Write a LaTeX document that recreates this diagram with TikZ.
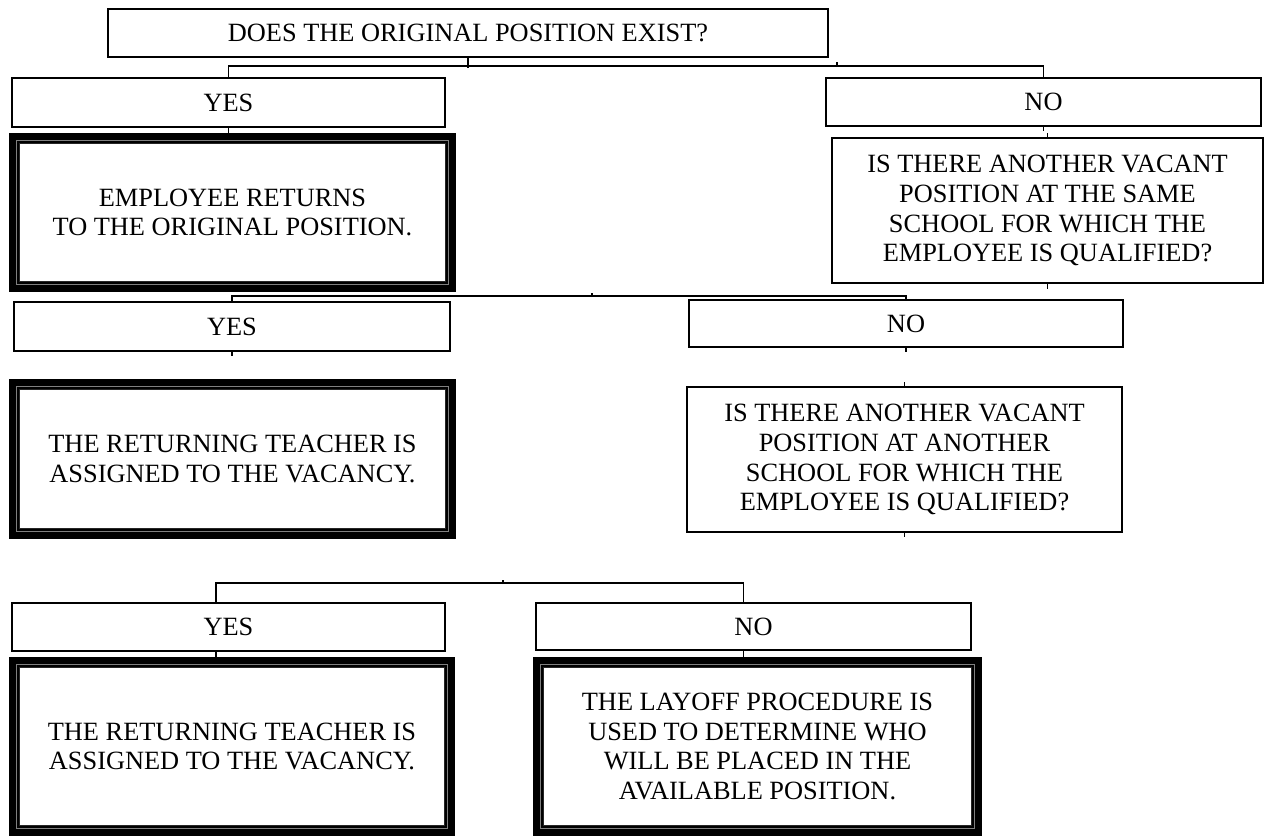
\documentclass[tikz,border=0pt]{standalone}
\usepackage{fontspec}
\setmainfont{Liberation Serif}
\usepackage{tikz}

\begin{document}
\begin{tikzpicture}[
  box/.style={draw, line width=1pt, inner sep=0pt, align=center,
    font=\fontsize{15pt}{17pt}\selectfont},
  heavy/.style={draw, line width=0.2cm, inner sep=0pt, align=center,
    font=\fontsize{15pt}{17pt}\selectfont},
  link/.style={line width=1pt}]
\useasboundingbox (0,0) rectangle (25.36,-16.74);
% questions and answers
\node[box, minimum width=14.4cm, minimum height=0.96cm] (exist) at (9.36,-0.66) {DOES THE ORIGINAL POSITION EXIST?};
\node[box, minimum width=8.66cm, minimum height=0.98cm] (yes1) at (4.57,-2.05) {YES};
\node[box, minimum width=8.7cm, minimum height=0.96cm] (no1) at (20.87,-2.04) {NO};
\node[heavy, minimum width=8.74cm, minimum height=2.98cm] (returns) at (4.65,-4.25) {EMPLOYEE RETURNS\\TO THE ORIGINAL POSITION.};
\node[box, minimum width=8.62cm, minimum height=2.9cm] (sameschool) at (20.95,-4.21) {IS THERE ANOTHER VACANT\\POSITION AT THE SAME\\SCHOOL FOR WHICH THE\\EMPLOYEE IS QUALIFIED?};
\node[box, minimum width=8.72cm, minimum height=0.98cm] (yes2) at (4.64,-6.53) {YES};
\node[box, minimum width=8.68cm, minimum height=0.94cm] (no2) at (18.12,-6.47) {NO};
\node[heavy, minimum width=8.74cm, minimum height=3cm] (assigned1) at (4.65,-9.18) {THE RETURNING TEACHER IS\\ASSIGNED TO THE VACANCY.};
\node[box, minimum width=8.7cm, minimum height=2.9cm] (otherschool) at (18.09,-9.19) {IS THERE ANOTHER VACANT\\POSITION AT ANOTHER\\SCHOOL FOR WHICH THE\\EMPLOYEE IS QUALIFIED?};
\node[box, minimum width=8.66cm, minimum height=0.96cm] (yes3) at (4.57,-12.54) {YES};
\node[box, minimum width=8.7cm, minimum height=0.94cm] (no3) at (15.07,-12.53) {NO};
\node[heavy, minimum width=8.72cm, minimum height=3.38cm] (assigned2) at (4.64,-14.93) {THE RETURNING TEACHER IS\\ASSIGNED TO THE VACANCY.};
\node[heavy, minimum width=8.78cm, minimum height=3.38cm] (layoff) at (15.15,-14.93) {THE LAYOFF PROCEDURE IS\\USED TO DETERMINE WHO\\WILL BE PLACED IN THE\\AVAILABLE POSITION.};
% inner frames of the heavy boxes
\foreach \b in {returns,assigned1,assigned2,layoff}{
  \draw[black!50, line width=0.8pt] ([shift={(0.155,-0.155)}]\b.north west) rectangle ([shift={(-0.155,0.155)}]\b.south east);
  \draw[black!85, line width=0.5pt] ([shift={(0.21,-0.21)}]\b.north west) rectangle ([shift={(-0.21,0.21)}]\b.south east);
}
% loose ticks
\coordinate (t1) at (16.74,-1.34);
\coordinate (t2) at (11.84,-5.94);
\coordinate (t3) at (10.06,-11.68);
% connectors
\draw[link] (exist.south) -- ++(0,-0.2);
\draw[link] (yes1.north) -- ++(0,0.22) -| (no1.north);
\draw[link] (t1) -- ++(0,0.1);
\draw[link] (yes1.south) -- (yes1.south |- returns.north);
\draw[link] (no1.south) -- ++(0,-0.08);
\draw[link] (sameschool.north) -- ++(0,0.08);
\draw[link] (sameschool.south) -- ++(0,-0.1);
\draw[link] (yes2.north) -- ++(0,0.1) -| (no2.north);
\draw[link] (t2) -- ++(0,0.08);
\draw[link] (yes2.south) -- ++(0,-0.08);
\draw[link] (no2.south) -- ++(0,-0.08);
\draw[link] (otherschool.north) -- ++(0,0.08);
\draw[link] (otherschool.south) -- ++(0,-0.08);
\draw[link] ([xshift=-0.25cm]yes3.north) -- ++(0,0.38) -| ([xshift=-0.2cm]no3.north);
\draw[link] (t3) -- ++(0,0.08);
\draw[link] ([xshift=-0.25cm]yes3.south) -- ++(0,-0.12);
\draw[link] ([xshift=-0.2cm]no3.south) -- ++(0,-0.12);
\end{tikzpicture}
\end{document}
